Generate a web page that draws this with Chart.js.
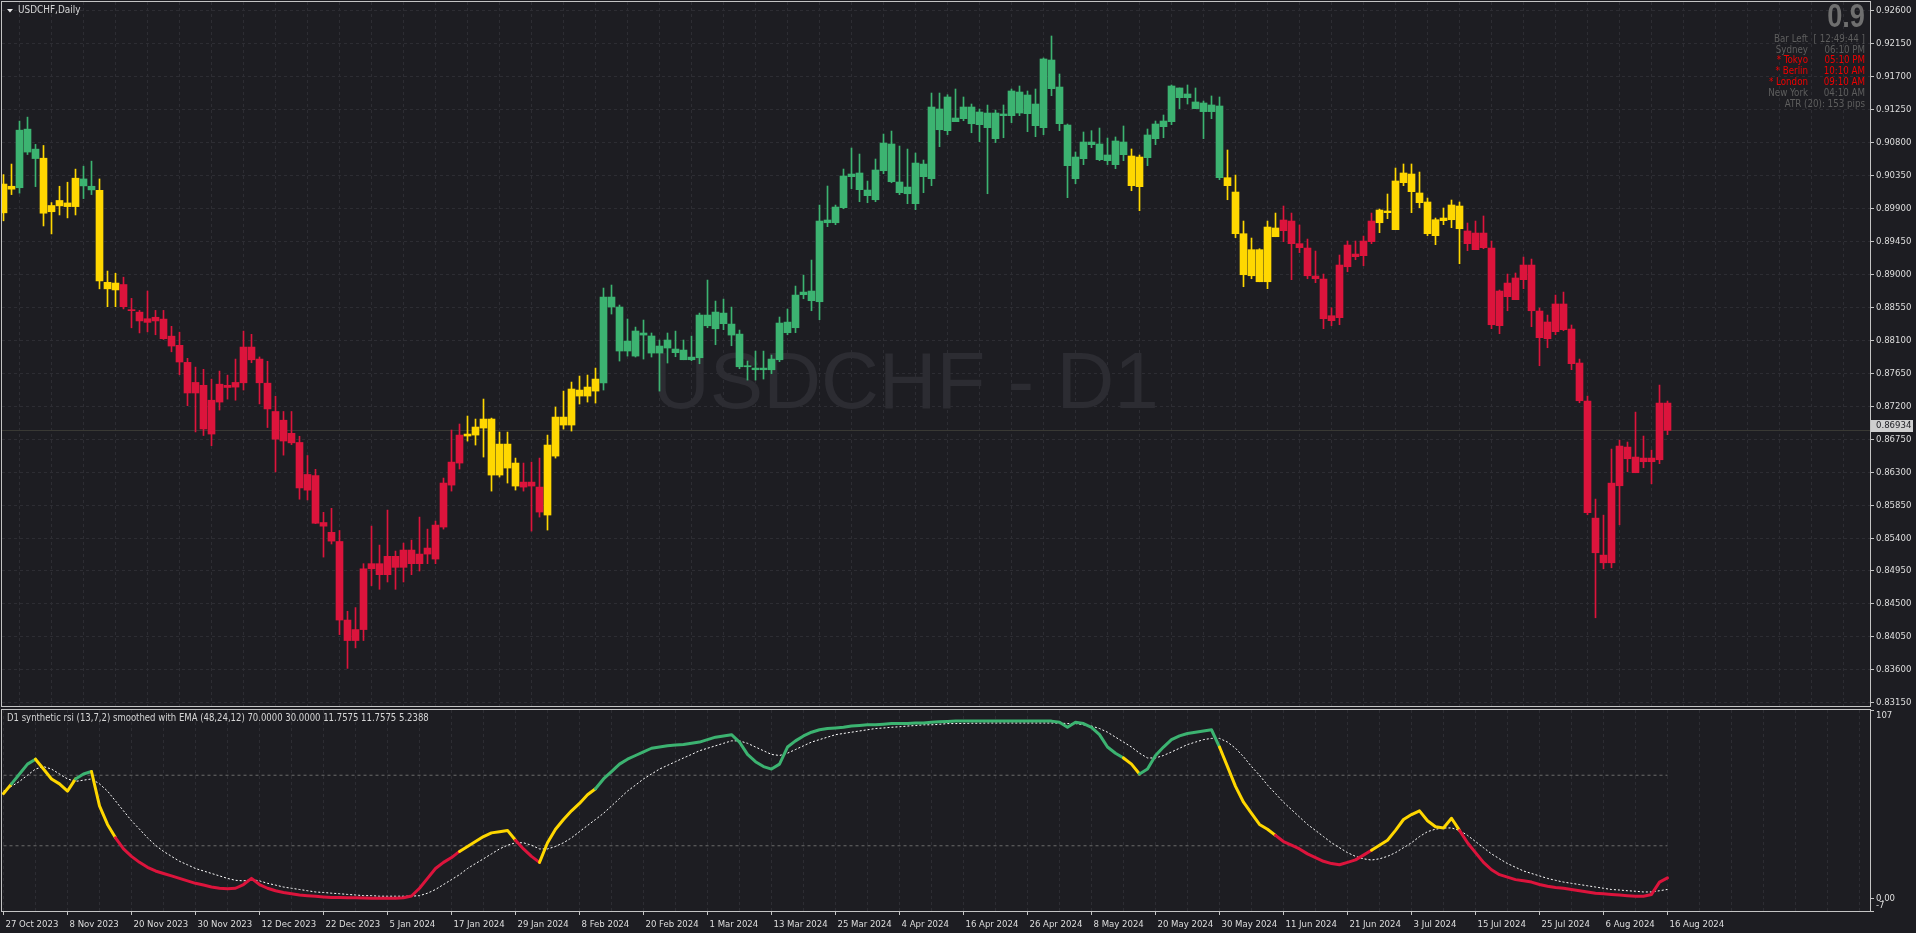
<!DOCTYPE html>
<html><head><meta charset="utf-8">
<script src="https://cdn.jsdelivr.net/npm/chart.js@4.4.1/dist/chart.umd.min.js"></script>
<style>
html,body{margin:0;padding:0;background:#1d1d22;overflow:hidden;}
#main{position:absolute;left:0;top:0;}
#ind{position:absolute;left:0;top:708px;}
</style></head><body>
<canvas id="main" width="1916" height="708"></canvas>
<canvas id="ind" width="1916" height="225"></canvas>
<script>
// ---------------- DATA ----------------
const tickLabels = ['27 Oct 2023','8 Nov 2023','20 Nov 2023','30 Nov 2023','12 Dec 2023','22 Dec 2023','5 Jan 2024','17 Jan 2024','29 Jan 2024','8 Feb 2024','20 Feb 2024','1 Mar 2024','13 Mar 2024','25 Mar 2024','4 Apr 2024','16 Apr 2024','26 Apr 2024','8 May 2024','20 May 2024','30 May 2024','11 Jun 2024','21 Jun 2024','3 Jul 2024','15 Jul 2024','25 Jul 2024','6 Aug 2024','16 Aug 2024'];
const tickEvery = 8;
const priceTicks = [0.83150,0.83600,0.84050,0.84500,0.84950,0.85400,0.85850,0.86300,0.86750,0.87200,0.87650,0.88100,0.88550,0.89000,0.89450,0.89900,0.90350,0.90800,0.91250,0.91700,0.92150,0.92600];

const open = [
.89841,.90204,.90184,.90984,.90711,.90587,.89856,.89936,.89976,.89926,
.90304,.90204,.90149,.88892,.88788,.88862,.88515,.88485,.88345,.88415,
.88390,.88157,.88032,.87799,.87381,.87486,.86820,.87257,.87486,.87461,
.87520,.88008,.87844,.87515,.87128,.87009,.86830,.86705,.86054,.86253,
.85612,.85478,.85353,.84280,.84000,.84150,.84980,.85050,.84900,.85150,
.85000,.85236,.85050,.85181,.85113,.85550,.86123,.86424,.86793,.86806,
.86902,.87025,.86260,.86683,.86424,.86096,.86164,.86096,.85714,.86519,
.87052,.86943,.87421,.87339,.87407,.87517,.88691,.88555,.87954,.87885,
.88200,.88159,.87926,.87995,.87981,.87967,.87835,.87862,.88445,.88258,
.88472,.88322,.88185,.87739,.87721,.87698,.87698,.87835,.88349,.88272,
.88723,.88773,.88627,.89743,.89706,.89911,.90335,.90385,.90152,.90020,
.90416,.90781,.90262,.90102,.89966,.90507,.90307,.91259,.90963,.91136,
.91127,.91286,.91045,.91004,.91204,.91168,.91168,.91491,.91195,.91327,
.91004,.91928,.91559,.91040,.90307,.90581,.90808,.90781,.90553,.90499,
.90808,.90617,.90198,.90594,.90854,.91018,.91086,.91546,.91414,.91355,
.91341,.91223,.91300,.90321,.90125,.89556,.88982,.89338,.88900,.89634,
.89597,.89729,.89420,.89360,.88978,.88937,.88436,.88409,.89105,.89278,
.89256,.89447,.89706,.89866,.89611,.90253,.90371,.90112,.89989,.89529,
.89734,.89747,.89934,.89593,.89338,.89565,.89360,.88300,.88882,.88655,
.88928,.89128,.88500,.88122,.88218,.88596,.88254,.87790,.87271,.85672,
.85167,.85062,.86114,.86642,.86506,.86442,.86492,.86469,.87243];
const high = [
.90363,.90507,.91094,.91148,.90776,.90761,.89981,.90204,.90259,.90438,
.90478,.90547,.90304,.89046,.89016,.88962,.88673,.88509,.88773,.88509,
.88509,.88291,.88211,.87854,.87734,.87704,.87570,.87680,.87625,.87844,
.88226,.88182,.87873,.87814,.87337,.87128,.87128,.86790,.86527,.86338,
.85751,.85806,.85503,.84400,.84450,.85050,.85563,.85304,.85782,.85222,
.85331,.85372,.85686,.85522,.85632,.86219,.86875,.86957,.87066,.87025,
.87298,.87038,.86847,.86847,.86492,.86424,.86437,.86492,.86806,.87189,
.87407,.87530,.87612,.87626,.87721,.88814,.88855,.88582,.88391,.88281,
.88377,.88200,.88104,.88200,.88226,.88104,.88158,.88472,.88923,.88636,
.88663,.88554,.88240,.87817,.87953,.87953,.87899,.88418,.88527,.88841,
.88991,.89196,.89947,.90207,.89947,.90439,.90726,.90644,.90275,.90576,
.90917,.90958,.90753,.90712,.90658,.90562,.91477,.91477,.91454,.91532,
.91423,.91327,.91259,.91313,.91245,.91314,.91532,.91573,.91505,.91532,
.91956,.92256,.91737,.91054,.90672,.90945,.90963,.90999,.90863,.90877,
.91027,.90713,.90631,.90986,.91095,.91177,.91587,.91546,.91587,.91546,
.91368,.91437,.91423,.90699,.90357,.89729,.89497,.89351,.89729,.89838,
.89934,.89838,.89675,.89483,.89319,.89005,.88545,.89265,.89456,.89456,
.89524,.89838,.89893,.90098,.90453,.90508,.90508,.90398,.90043,.89770,
.89907,.90016,.89989,.89702,.89729,.89798,.89456,.88787,.89005,.89019,
.89237,.89210,.88541,.88445,.88718,.88759,.88309,.87844,.87339,.85932,
.85713,.86615,.86738,.86711,.87120,.86793,.86601,.87489,.87271];
const low = [
.89732,.90090,.90110,.90637,.90199,.89662,.89553,.89812,.89772,.89812,
.90035,.90090,.88803,.88559,.88559,.88529,.88271,.88201,.88216,.88176,
.88112,.87943,.87630,.87208,.86849,.86800,.86661,.87148,.87297,.87282,
.87421,.87794,.87232,.86909,.86303,.86532,.86676,.85930,.85920,.85597,
.85140,.85319,.84081,.83620,.83900,.84000,.84750,.84700,.84800,.84700,
.84800,.84900,.84950,.85050,.85050,.85522,.86041,.86342,.86724,.86670,
.86506,.86041,.86233,.86151,.86055,.86041,.85495,.85686,.85509,.86492,
.86888,.86861,.87230,.87257,.87243,.87421,.88459,.87817,.87885,.87872,
.87844,.87872,.87407,.87790,.87876,.87835,.87821,.87780,.88272,.88040,
.88245,.88026,.87712,.87557,.87557,.87571,.87644,.87808,.88176,.88204,
.88668,.88504,.88381,.89652,.89679,.89897,.90171,.89993,.89979,.89993,
.90375,.90252,.90089,.89966,.89884,.90116,.90212,.90744,.90908,.91086,
.91099,.90935,.90813,.90102,.90800,.90867,.91072,.91168,.90949,.90881,
.90908,.91441,.90963,.90048,.90239,.90499,.90731,.90553,.90499,.90444,
.90553,.90143,.89870,.90485,.90772,.90867,.91045,.91264,.91327,.91264,
.90854,.91127,.90294,.90020,.89502,.88832,.88941,.88900,.88805,.89515,
.89447,.88928,.89297,.88941,.88887,.88259,.88299,.88313,.89037,.89201,
.89119,.89420,.89570,.89761,.89611,.90212,.89843,.89911,.89529,.89406,
.89679,.89638,.89146,.89324,.89338,.89351,.88259,.88190,.88504,.88655,
.88805,.88286,.87753,.87999,.88177,.88231,.87699,.87248,.85718,.84311,
.84980,.84994,.85581,.86305,.86292,.86360,.86141,.86415,.86811];
const close = [
.90234,.90164,.90970,.90671,.90582,.89836,.89941,.90010,.89926,.90314,
.90209,.90154,.88912,.88803,.88882,.88559,.88505,.88365,.88395,.88365,
.88122,.88022,.87804,.87381,.87525,.86889,.87282,.87501,.87456,.87525,
.88008,.87834,.87520,.87163,.86750,.86725,.86700,.86084,.86268,.85602,
.85562,.85358,.84280,.84000,.84150,.84980,.85050,.84900,.85150,.85000,
.85236,.85050,.85181,.85263,.85577,.86151,.86437,.86806,.86820,.86916,
.87025,.86260,.86683,.86356,.86110,.86164,.86110,.85755,.86670,.87052,
.86943,.87435,.87339,.87462,.87571,.88691,.88555,.87954,.88090,.88227,
.88172,.87926,.88022,.88104,.87931,.87835,.87871,.88445,.88299,.88486,
.88327,.88172,.87739,.87753,.87698,.87721,.87844,.88336,.88204,.88718,
.88759,.88641,.89729,.89706,.89920,.90344,.90371,.90157,.90075,.90426,
.90794,.90266,.90116,.90193,.90521,.90335,.91286,.90976,.91423,.91086,
.91286,.91058,.91218,.91204,.90854,.91191,.91505,.91204,.91450,.91031,
.91942,.91537,.91059,.90485,.90603,.90808,.90772,.90567,.90631,.90822,
.90635,.90212,.90603,.90904,.91054,.91095,.91573,.91414,.91464,.91264,
.91223,.91314,.90321,.90212,.89556,.88996,.89338,.88900,.89647,.89515,
.89743,.89420,.89365,.88982,.88941,.88395,.88368,.89128,.89401,.89242,
.89456,.89729,.89879,.89843,.90276,.90385,.90130,.89980,.89556,.89747,
.89770,.89948,.89624,.89420,.89565,.89365,.88313,.88773,.88696,.88951,
.89128,.88504,.88136,.88350,.88596,.88245,.87781,.87275,.85745,.85199,
.85062,.86150,.86656,.86483,.86292,.86492,.86442,.87243,.86870];
// indicator state per bar: G = green, Y = yellow, R = red
const barState = (
 "YYGGGYYYYY"+"GGYYYRRRRR"+"RRRRRRRRRR"+"RRRRRRRRRR"+"RRRRRRRRRR"+
 "RRRRRRRRYY"+"YYYYYRRRYY"+"YYYYYGGGGG"+"GGGGGGGGGG"+"GGGGGGGGGG"+
 "GGGGGGGGGG"+"GGGGGGGGGG"+"GGGGGGGGGG"+"GGGGGGGGGG"+"GYYGGGGGGG"+
 "GGGYYYYYYY"+"RRRRRRRRRR"+"RRYYYYYYYY"+"YYYRRRRRRR"+"RRRRRRRRRR"+
 "RRRRRRRRR").split('');
const askPrice = 0.86934;

const rsiMain = [
59.6,65.1,70.7,76.3,79.1,73.5,67.9,65.1,61.0,67.9,
70.7,72.1,52.6,42.1,34.5,28.2,24.0,20.6,17.8,15.7,
14.3,12.9,11.5,10.1,8.7,7.7,6.6,5.9,5.6,5.9,
8.0,11.5,8.0,5.9,4.5,3.5,2.8,2.1,1.7,1.4,
1.0,0.7,0.7,0.5,0.5,0.4,0.3,0.3,0.3,0.3,
0.5,1.5,5.9,11.5,17.1,20.6,23.3,26.8,29.6,32.4,
35.2,37.3,38.0,38.7,33.1,28.2,24.0,20.6,31.7,39.4,
44.9,49.8,54.0,58.9,62.3,67.9,72.1,76.3,79.1,81.2,
83.2,85.3,86.0,86.7,87.1,87.4,88.1,88.8,90.2,91.6,
92.3,93.0,88.8,81.8,77.7,74.9,73.5,76.3,86.0,89.5,
92.3,94.4,95.8,96.5,96.8,97.2,97.9,98.2,98.6,98.6,
98.9,99.3,99.3,99.3,99.6,99.6,100.0,100.3,100.5,100.7,
100.7,100.7,100.7,100.7,100.7,100.7,100.7,100.7,100.7,100.7,
100.7,100.7,100.0,97.2,100.0,99.3,97.2,93.0,86.0,82.5,
79.8,76.3,70.7,73.5,81.2,86.0,90.2,92.3,93.7,94.4,
95.1,95.8,86.0,74.9,63.7,54.7,48.4,42.1,39.4,35.9,
32.4,30.3,28.2,25.4,23.3,21.2,19.9,19.2,20.6,22.0,
24.7,27.5,30.3,33.1,38.7,44.9,47.7,49.8,44.2,40.8,
40.1,45.6,38.7,31.7,26.1,20.6,16.4,13.6,12.2,10.8,
10.1,9.4,8.0,7.0,6.3,5.9,5.2,4.5,3.8,3.1,
2.8,2.4,2.1,1.7,1.4,1.4,2.4,9.4,11.7575];
const rsiSignal = [
61.0,63.7,66.5,70.0,73.5,74.9,73.5,70.7,67.9,66.5,
67.2,67.9,65.1,61.0,55.4,49.8,44.2,39.4,34.5,30.3,
26.8,24.0,21.2,19.2,17.1,15.7,14.3,12.9,11.5,10.4,
10.1,10.8,10.1,8.7,7.7,6.6,5.9,5.2,4.5,3.8,
3.5,3.1,2.8,2.4,2.1,1.7,1.7,1.4,1.4,1.4,
1.4,1.4,1.7,3.1,5.2,8.0,10.8,13.6,17.1,19.9,
22.6,25.4,28.2,30.3,31.7,31.7,30.3,28.2,28.2,29.6,
31.7,34.5,38.0,41.5,44.9,48.4,52.6,56.8,61.0,64.4,
67.9,70.7,73.5,75.6,77.7,79.8,81.8,83.9,85.3,86.7,
88.1,89.5,89.5,88.1,86.0,83.9,81.8,81.2,82.5,84.6,
86.7,88.8,90.2,91.6,93.0,93.7,94.4,95.1,95.8,96.5,
96.8,97.2,97.5,97.9,98.2,98.6,98.6,98.9,99.3,99.3,
99.4,99.5,99.5,99.6,99.6,99.6,99.6,99.6,99.6,99.6,
99.6,99.6,99.6,99.3,99.3,98.6,97.9,96.5,94.4,91.6,
88.8,86.0,82.5,79.8,79.8,81.2,83.2,85.3,87.4,88.8,
90.2,90.9,90.9,88.8,85.3,80.5,74.9,70.0,64.4,59.6,
54.7,50.5,46.3,42.1,38.7,35.2,31.7,28.9,26.1,24.0,
22.6,21.9,22.6,24.0,26.1,28.9,31.7,35.2,38.0,39.4,
40.1,40.1,38.7,35.9,32.4,28.9,25.4,22.6,19.9,17.8,
15.7,14.3,12.9,11.5,10.4,9.4,8.7,8.0,7.3,6.6,
5.9,5.2,4.9,4.5,4.2,3.8,3.8,4.5,5.2388];
const rsiLevels = [70, 30];
const indTicks = [107, 0, -7];

const sessionRows = [
 ['Bar Left','[ 12:49:44 ]',false],
 ['Sydney','06:10 PM',false],
 ['* Tokyo','05:10 PM',true],
 ['* Berlin','10:10 AM',true],
 ['* London','09:10 AM',true],
 ['New York','04:10 AM',false]];
const atrText = 'ATR (20): 153 pips';
const bigDigits = '0.9';

// ---------------- STYLE ----------------
const FONT_C = "'DejaVu Sans Condensed','Liberation Sans',sans-serif";
const FONT_R = "'Liberation Sans',Arial,sans-serif";
const AX_SIZE = 9.5;
const BG = '#1d1d22', GRID = '#2d2d33', FRAME = '#c4c4c4', TXT = '#dedede';
const palette = {G:'#3cb371', Y:'#ffd700', R:'#dc143c'};
const N = close.length;
const barColors = barState.map(s => palette[s]);
const BAR_PX = 8, PLOT_W = 1868;
const X_MIN = -0.1875, X_MAX = X_MIN + PLOT_W / BAR_PX;
const gridIdx = []; for (let i = 0; i <= X_MAX; i += 4) gridIdx.push(i);

Chart.defaults.font.family = FONT_C;

// narrow text helper (condensed by horizontal scaling)
function txt(ctx, s, x, y, opt) {
  ctx.save();
  ctx.font = opt.font; ctx.fillStyle = opt.color;
  ctx.textAlign = opt.align || 'left'; ctx.textBaseline = opt.baseline || 'middle';
  ctx.translate(x, y); ctx.scale(opt.sx || 1, 1);
  ctx.fillText(s, 0, 0);
  ctx.restore();
}

function xScale(withLabels) {
  return {
    type:'linear', min:X_MIN, max:X_MAX, bounds:'data', offset:false,
    afterBuildTicks: s => { s.ticks = gridIdx.map(v => ({value:v})); },
    afterFit: s => { s.height = withLabels ? 22 : 0; s.paddingLeft = 0; s.paddingRight = 0; },
    grid: { color:GRID, lineWidth:1, drawTicks:withLabels, tickLength:4, tickWidth:1, tickBorderDash:[],
            tickColor: c => (c.tick && c.tick.value % tickEvery === 0 && c.tick.value < N) ? FRAME : 'rgba(0,0,0,0)' },
    border: { display:false, dash:[3,3] },
    ticks: withLabels ? { display:true, autoSkip:false, maxRotation:0, minRotation:0, align:'start', labelOffset:2, padding:4,
        color:TXT, font:{family:FONT_C, size:AX_SIZE},
        callback: v => (v % tickEvery === 0 && v / tickEvery < tickLabels.length) ? tickLabels[v / tickEvery] : '' }
      : { display:false }
  };
}
const bgPlugin = { id:'bg', beforeDraw(c){ const x=c.ctx; x.save(); x.fillStyle=BG; x.fillRect(0,0,c.width,c.height); x.restore(); } };
function drawFrame(c){ const a=c.chartArea, x=c.ctx; x.save(); x.strokeStyle=FRAME; x.lineWidth=1;
  x.strokeRect(a.left-0.5, a.top-0.5, a.right-a.left+1, a.bottom-a.top+1); x.restore(); }

// ---------------- MAIN CHART ----------------
const mainDeco = {
  id:'mainDeco',
  beforeDatasetsDraw(c){
    const x=c.ctx, a=c.chartArea;
    x.save();
    x.beginPath(); x.rect(a.left,a.top,a.right-a.left,a.bottom-a.top); x.clip();
    x.font = `80px ${FONT_R}`; x.fillStyle = '#2c2c32'; x.textAlign='left'; x.textBaseline='alphabetic';
    x.fillText('USDCHF - D1', 652, 408);
    const yb = Math.round(c.scales.y.getPixelForValue(close[N-1])) + 0.5;
    x.strokeStyle = '#393934'; x.lineWidth = 1; x.beginPath(); x.moveTo(a.left, yb); x.lineTo(a.right, yb); x.stroke();
    x.restore();
  },
  afterDraw(c){
    const x=c.ctx, a=c.chartArea;
    drawFrame(c);
    // title
    x.save(); x.fillStyle = '#e8e8e8';
    x.beginPath(); x.moveTo(7,9); x.lineTo(13,9); x.lineTo(10,12.5); x.closePath(); x.fill(); x.restore();
    const f11 = `11px ${FONT_C}`;
    txt(x, 'USDCHF,Daily', 18, 10.5, {font:f11, color:'#d6d6d6', sx:0.9});
    // info panel
    txt(x, bigDigits, 1865, 27, {font:`bold 34px ${FONT_R}`, color:'#6f6f6f', align:'right', baseline:'alphabetic', sx:0.8});
    sessionRows.forEach((r,i) => {
      const y = 39 + i*10.8, col = r[2] ? '#f00000' : '#5e5e5e';
      txt(x, r[0], 1808, y, {font:f11, color:col, align:'right', sx:0.88});
      txt(x, r[1], 1865, y, {font:f11, color:col, align:'right', sx:0.88});
    });
    txt(x, atrText, 1865, 39 + 6*10.8, {font:f11, color:'#5e5e5e', align:'right', sx:0.88});
    // ask price box
    const yp = Math.round(c.scales.y.getPixelForValue(askPrice));
    x.save(); x.fillStyle = '#cfcfcf'; x.fillRect(a.right+1, yp-6, 42, 12); x.restore();
    txt(x, askPrice.toFixed(5), a.right+6, yp, {font:`${AX_SIZE}px ${FONT_C}`, color:'#1d1d22'});
  }
};

new Chart(document.getElementById('main'), {
  type:'bar',
  data:{ datasets:[
    { label:'body', data: open.map((o,i)=>({x:i, y:[o, close[i]]})), backgroundColor: barColors,
      barThickness:7, grouped:false, minBarLength:1, borderWidth:0 },
    { label:'wick', data: high.map((h,i)=>({x:i, y:[low[i], h]})), backgroundColor: barColors,
      barThickness:1, grouped:false, minBarLength:1, borderWidth:0 }
  ]},
  options:{
    responsive:false, animation:false, events:[], devicePixelRatio:1,
    layout:{ padding:{ left:2, top:2, right:0, bottom:2 } },
    plugins:{ legend:{display:false}, tooltip:{enabled:false} },
    scales:{
      x: xScale(false),
      y: { position:'right', min:0.831063, max:0.927202, bounds:'data',
           afterBuildTicks: s => { s.ticks = priceTicks.map(v => ({value:v})); },
           afterFit: s => { s.width = 46; s.paddingTop = 0; s.paddingBottom = 0; },
           ticks:{ autoSkip:false, color:TXT, font:{family:FONT_C, size:AX_SIZE}, padding:2, callback: v => v.toFixed(5) },
           grid:{ color:GRID, lineWidth:1, tickLength:4, tickColor:FRAME, tickWidth:1, tickBorderDash:[] },
           border:{ display:false, dash:[3,3] } }
    }
  },
  plugins:[bgPlugin, mainDeco]
});

// ---------------- INDICATOR CHART ----------------
const indDeco = {
  id:'indDeco',
  afterDraw(c){
    drawFrame(c);
    const lab = `D1 synthetic rsi (13,7,2) smoothed with EMA (48,24,12) ${rsiLevels[0].toFixed(4)} ${rsiLevels[1].toFixed(4)} ${rsiMain[N-1].toFixed(4)} ${rsiMain[N-1].toFixed(4)} ${rsiSignal[N-1].toFixed(4)}`;
    txt(c.ctx, lab, 7, 10, {font:`11px ${FONT_C}`, color:'#d6d6d6', sx:0.86});
  }
};
const levelSets = rsiLevels.map(lv => ({
  data:[{x:0,y:lv},{x:N-1,y:lv}], borderColor:'#6a6a6a', borderWidth:1, borderDash:[3,3], pointRadius:0 }));

new Chart(document.getElementById('ind'), {
  type:'line',
  data:{ datasets:[
    { data: rsiMain.map((v,i)=>({x:i,y:v})), borderColor:palette.G, borderWidth:3, pointRadius:0,
      borderJoinStyle:'round', borderCapStyle:'round',
      segment:{ borderColor: s => barColors[s.p1DataIndex] } },
    { data: rsiSignal.map((v,i)=>({x:i,y:v})), borderColor:'#ffffff', borderWidth:1, borderDash:[2,2], pointRadius:0 },
    ...levelSets
  ]},
  options:{
    responsive:false, animation:false, events:[], devicePixelRatio:1,
    layout:{ padding:{ left:2, top:2, right:0, bottom:0 } },
    plugins:{ legend:{display:false}, tooltip:{enabled:false} },
    scales:{
      x: xScale(true),
      y: { position:'right', min:-7, max:107, bounds:'data',
           afterBuildTicks: s => { s.ticks = indTicks.map(v => ({value:v})); },
           afterFit: s => { s.width = 46; s.paddingTop = 0; s.paddingBottom = 0; },
           ticks:{ autoSkip:false, color:TXT, font:{family:FONT_C, size:AX_SIZE}, padding:2,
                   callback: v => v === indTicks[0] ? ['', String(v)] : (v === 0 ? '0.00' : [String(v), '']) },
           grid:{ drawOnChartArea:false, tickLength:4, tickColor:FRAME, tickWidth:1 },
           border:{ display:false } }
    }
  },
  plugins:[bgPlugin, indDeco]
});
</script></body></html>
